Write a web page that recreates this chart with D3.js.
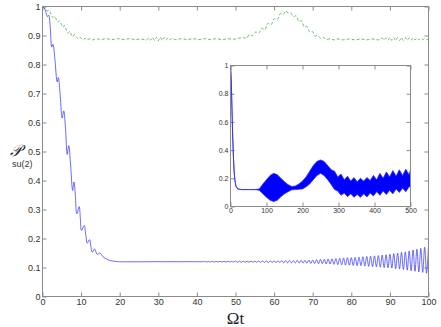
<!DOCTYPE html>
<html lang="en">
<head>
<meta charset="UTF-8">
<script src="https://cdn.jsdelivr.net/npm/d3@7"></script>
<title>P su(2)</title>
<style>
    body { margin: 0; background: white; }
    .tick text { fill: #333; }
    .tick line, .domain { stroke: #8a8a8a; }
</style>
</head>
<body>
<div id="chart"></div>
<script>
    // main blue curve (Omega t, P)
    const mainT = [0, 0.5, 1.0, 1.3, 1.6, 2.0, 2.4, 2.7, 3.2, 3.8, 4.1, 4.6, 5.1, 5.5, 6.0, 6.4, 6.8, 7.3, 7.8, 8.15,
        8.5, 8.9, 9.5, 9.8, 10.1, 10.8, 11.2, 11.6, 12.2, 12.5, 12.9, 13.5, 13.8, 14.2, 14.9, 15.7, 16.5, 17.5, 19, 20,
        30, 40, 40.5, 41, 41.5, 42, 42.5, 43, 43.5, 44, 44.5, 45, 45.5, 46, 46.5, 47, 47.5, 48, 48.5, 49, 49.5, 50,
        50.5, 51, 51.5, 52, 52.5, 53, 53.5, 54, 54.5, 55, 55.5, 56, 56.5, 57, 57.5, 58, 58.5, 59, 59.5, 60,
        60.5, 61, 61.5, 62, 62.5, 63, 63.5, 64, 64.5, 65, 65.5, 66, 66.5, 67, 67.5, 68, 68.5, 69, 69.5, 70,
        70.5, 71, 71.5, 72, 72.5, 73, 73.5, 74, 74.5, 75, 75.5, 76, 76.5, 77, 77.5, 78, 78.5, 79, 79.5, 80,
        80.5, 81, 81.5, 82, 82.5, 83, 83.5, 84, 84.5, 85, 85.5, 86, 86.5, 87, 87.5, 88, 88.5, 89, 89.5, 90,
        90.5, 91, 91.5, 92, 92.5, 93, 93.5, 94, 94.5, 95, 95.5, 96, 96.5, 97, 97.5, 98, 98.5, 99, 99.5, 100];
    const mainP = [1, 0.995, 0.975, 0.965, 0.97, 0.93, 0.86, 0.87, 0.82, 0.74, 0.755, 0.69, 0.615, 0.64, 0.57, 0.49, 0.52, 0.45, 0.366, 0.395,
        0.35, 0.285, 0.31, 0.27, 0.228, 0.245, 0.215, 0.184, 0.196, 0.175, 0.153, 0.164, 0.155, 0.145, 0.15, 0.137, 0.13, 0.124, 0.121, 0.12,
        0.12, 0.12, 0.12, 0.12, 0.12, 0.121, 0.119, 0.121, 0.119, 0.121, 0.119, 0.121, 0.119, 0.121, 0.119, 0.121, 0.119, 0.121, 0.119, 0.121, 0.119, 0.122,
        0.118, 0.122, 0.118, 0.122, 0.118, 0.122, 0.118, 0.122, 0.118, 0.122, 0.118, 0.122, 0.118, 0.123, 0.117, 0.123, 0.117, 0.123, 0.117, 0.123,
        0.117, 0.123, 0.117, 0.124, 0.116, 0.124, 0.116, 0.124, 0.116, 0.124, 0.116, 0.125, 0.115, 0.125, 0.115, 0.125, 0.115, 0.126, 0.114, 0.126,
        0.114, 0.127, 0.113, 0.128, 0.113, 0.128, 0.112, 0.129, 0.112, 0.130, 0.111, 0.131, 0.110, 0.132, 0.109, 0.133, 0.108, 0.134, 0.108, 0.134,
        0.107, 0.135, 0.106, 0.136, 0.106, 0.137, 0.105, 0.138, 0.104, 0.139, 0.103, 0.140, 0.102, 0.141, 0.101, 0.143, 0.100, 0.144, 0.099, 0.146,
        0.098, 0.148, 0.096, 0.150, 0.095, 0.152, 0.093, 0.154, 0.091, 0.157, 0.089, 0.160, 0.087, 0.163, 0.085, 0.166, 0.083, 0.170, 0.080, 0.174];

    // green dashed curve
    const greenT = [0, 0.7, 1.3, 1.7, 2.3, 2.7, 3.1, 3.6, 4.0, 4.4, 4.9, 5.3, 5.7, 6.2, 6.6, 7.0, 7.5, 7.9, 8.3, 8.8,
        9.2, 9.6, 10.2, 10.6, 11.0, 11.7, 12.3, 13, 14, 15, 16.5, 18, 19.5, 21, 22.5, 24, 25.5, 27, 27.5, 28,
        28.5, 29, 29.5, 30, 30.5, 31, 31.5, 32, 32.5, 33, 33.5, 34.5, 36, 37.5, 39, 40.5, 42, 43.5, 45, 46.5,
        48, 49.5, 51, 52, 52.8, 53.6, 54.4, 55.2, 56, 56.8, 57.6, 58.4, 59.2, 60, 60.8, 61.6, 62.4, 63.0, 63.6, 64.3,
        65.0, 65.7, 66.4, 67.1, 67.8, 68.5, 69.2, 69.9, 70.6, 71.3, 72, 72.8, 73.6, 74.5, 75.5, 76.5, 78, 79.5, 81, 82.5,
        84, 85.5, 87, 88, 88.5, 89, 89.5, 90, 90.5, 91, 91.5, 92, 92.5, 93, 93.5, 94, 94.5, 95, 95.5, 96,
        96.5, 97, 97.5, 98, 98.5, 99, 99.5, 100];
    const greenP = [1, 0.99, 0.985, 0.987, 0.97, 0.962, 0.966, 0.955, 0.946, 0.951, 0.938, 0.928, 0.934, 0.918, 0.908, 0.914, 0.902, 0.896, 0.904, 0.894,
        0.889, 0.895, 0.888, 0.885, 0.89, 0.886, 0.889, 0.885, 0.889, 0.886, 0.889, 0.886, 0.889, 0.886, 0.889, 0.886, 0.888, 0.885, 0.892, 0.884,
        0.893, 0.883, 0.894, 0.882, 0.894, 0.883, 0.893, 0.884, 0.891, 0.885, 0.89, 0.886, 0.889, 0.886, 0.889, 0.886, 0.889, 0.886, 0.889, 0.886,
        0.889, 0.887, 0.891, 0.893, 0.89, 0.903, 0.899, 0.912, 0.908, 0.925, 0.92, 0.942, 0.937, 0.958, 0.955, 0.975, 0.972, 0.985, 0.978, 0.978,
        0.965, 0.968, 0.948, 0.951, 0.93, 0.932, 0.912, 0.914, 0.898, 0.9, 0.891, 0.893, 0.886, 0.889, 0.885, 0.888, 0.885, 0.888, 0.885, 0.888,
        0.885, 0.888, 0.885, 0.891, 0.884, 0.892, 0.884, 0.893, 0.883, 0.893, 0.883, 0.893, 0.883, 0.893, 0.883, 0.893, 0.884, 0.892, 0.884, 0.892,
        0.885, 0.891, 0.885, 0.89, 0.886, 0.889, 0.886, 0.888];

    // inset: long-time envelope of the blue curve
    const insetT = [0, 2, 4, 6, 8, 10, 12, 15, 20, 30, 50, 70, 80, 90, 100, 110, 120, 130, 140, 150,
        160, 170, 180, 190, 200, 210, 220, 230, 240, 250, 260, 270, 280, 289, 298, 307, 316, 325, 334, 343,
        352, 361, 370, 379, 388, 397, 406, 415, 424, 433, 442, 451, 460, 469, 478, 487, 496, 500];
    const insetHi = [1, 0.9, 0.7, 0.5, 0.36, 0.25, 0.19, 0.145, 0.125, 0.12, 0.12, 0.121, 0.125, 0.16, 0.19, 0.22, 0.235, 0.225, 0.2, 0.175,
        0.155, 0.142, 0.145, 0.16, 0.18, 0.21, 0.25, 0.29, 0.32, 0.33, 0.32, 0.29, 0.26, 0.25, 0.21, 0.23, 0.19, 0.215, 0.18, 0.205,
        0.175, 0.2, 0.18, 0.205, 0.185, 0.22, 0.19, 0.235, 0.2, 0.245, 0.21, 0.255, 0.215, 0.26, 0.22, 0.265, 0.225, 0.26];
    const insetLo = [1, 0.9, 0.7, 0.5, 0.36, 0.25, 0.19, 0.145, 0.125, 0.12, 0.12, 0.119, 0.115, 0.09, 0.065, 0.045, 0.035, 0.045, 0.07, 0.09,
        0.105, 0.118, 0.12, 0.122, 0.125, 0.14, 0.16, 0.19, 0.22, 0.235, 0.22, 0.19, 0.155, 0.12, 0.11, 0.08, 0.095, 0.07, 0.09, 0.065,
        0.085, 0.065, 0.09, 0.068, 0.095, 0.075, 0.105, 0.08, 0.11, 0.085, 0.115, 0.09, 0.125, 0.1, 0.13, 0.105, 0.14, 0.14];

    const xTicks = [0, 10, 20, 30, 40, 50, 60, 70, 80, 90, 100];
    const yTicks = [0, 0.1, 0.2, 0.3, 0.4, 0.5, 0.6, 0.7, 0.8, 0.9, 1];
    const insetXTicks = [0, 100, 200, 300, 400, 500];
    const insetYTicks = [0, 0.2, 0.4, 0.6, 0.8, 1];

    const width = 441, height = 327;
    const box = { left: 42.5, right: 428.5, top: 6.5, bottom: 296.5 };
    const inBox = { left: 230.5, right: 410.5, top: 65.5, bottom: 206.5 };

    const svg = d3.select("#chart").append("svg")
        .attr("width", width)
        .attr("height", height)
        .style("font-family", "'Liberation Sans', Arial, sans-serif");

    // Function to draw a boxed axes with inward ticks on all sides
    function drawAxes(g, x, y, b, xt, yt, fs) {
        g.append("rect")
            .attr("x", b.left).attr("y", b.top)
            .attr("width", b.right - b.left).attr("height", b.bottom - b.top)
            .attr("fill", "white");
        const fmt = d => d3.format("")(+d.toFixed(2));
        g.append("g").attr("transform", `translate(0,${b.bottom})`)
            .call(d3.axisBottom(x).tickValues(xt).tickSize(-4).tickSizeOuter(0).tickPadding(2).tickFormat(fmt))
            .style("font-size", fs + "px");
        g.append("g").attr("transform", `translate(0,${b.top})`)
            .call(d3.axisTop(x).tickValues(xt).tickSize(-4).tickSizeOuter(0).tickFormat(""));
        g.append("g").attr("transform", `translate(${b.left},0)`)
            .call(d3.axisLeft(y).tickValues(yt).tickSize(-4).tickSizeOuter(0).tickPadding(2).tickFormat(fmt))
            .style("font-size", fs + "px");
        g.append("g").attr("transform", `translate(${b.right},0)`)
            .call(d3.axisRight(y).tickValues(yt).tickSize(-4).tickSizeOuter(0).tickFormat(""));
        g.selectAll(".domain").remove();
        g.selectAll("text").attr("fill", "#333");
    }

    function drawFrame(g, b) {
        g.append("rect")
            .attr("x", b.left).attr("y", b.top)
            .attr("width", b.right - b.left).attr("height", b.bottom - b.top)
            .attr("fill", "none").attr("stroke", "#8a8a8a");
    }

    // main plot
    const x = d3.scaleLinear().domain([0, 100]).range([box.left, box.right]);
    const y = d3.scaleLinear().domain([0, 1]).range([box.bottom, box.top]);
    const main = svg.append("g");
    drawAxes(main, x, y, box, xTicks, yTicks, 9);

    const mainData = mainT.map((t, i) => [t, mainP[i]]);
    const greenData = greenT.map((t, i) => [t, greenP[i]]);
    const line = d3.line().x(d => x(d[0])).y(d => y(d[1])).curve(d3.curveCatmullRom);

    main.append("path").datum(greenData)
        .attr("d", line).attr("fill", "none")
        .attr("stroke", "#4aaa4a").attr("stroke-width", 0.8)
        .attr("stroke-dasharray", "3,2");
    main.append("path").datum(mainData)
        .attr("d", line).attr("fill", "none")
        .attr("stroke", "#2b2bff").attr("stroke-width", 0.7);
    drawFrame(main, box);

    // inset
    const xi = d3.scaleLinear().domain([0, 500]).range([inBox.left, inBox.right]);
    const yi = d3.scaleLinear().domain([0, 1]).range([inBox.bottom, inBox.top]);
    const inset = svg.append("g");
    drawAxes(inset, xi, yi, inBox, insetXTicks, insetYTicks, 7);

    const insetData = insetT.map((t, i) => [t, insetHi[i], insetLo[i]]);
    inset.append("path").datum(insetData)
        .attr("d", d3.area().x(d => xi(d[0])).y0(d => yi(d[2])).y1(d => yi(d[1])))
        .attr("fill", "#0000ff").attr("stroke", "#2b2bff").attr("stroke-width", 0.8);
    drawFrame(inset, inBox);

    // axis labels
    svg.append("text")
        .attr("x", (box.left + box.right) / 2).attr("y", 324)
        .attr("text-anchor", "middle")
        .style("font-family", "'Liberation Serif', serif")
        .style("font-size", "17px").attr("fill", "#222")
        .text("Ωt");
    svg.append("text")
        .attr("x", 10).attr("y", 156)
        .style("font-family", "'DejaVu Serif', serif")
        .style("font-size", "16px").style("font-style", "italic").attr("fill", "#222")
        .text("𝒫");
    svg.append("text")
        .attr("x", 12).attr("y", 167)
        .style("font-size", "9px").attr("fill", "#333")
        .text("su(2)");
</script>
</body>
</html>
